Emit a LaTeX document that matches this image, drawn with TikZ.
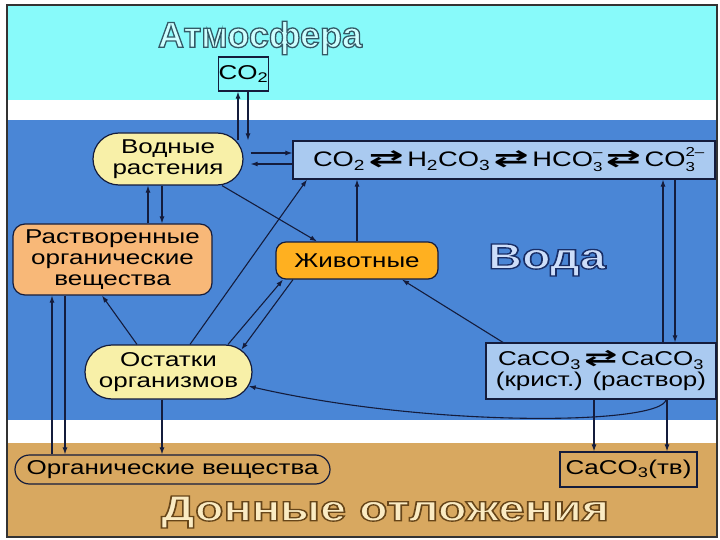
\documentclass[tikz,border=0pt]{standalone}
\usepackage{fontspec}
\setmainfont{Liberation Sans}[FakeStretch=1.3]
\newfontfamily\titlefont{Liberation Sans}
\newfontfamily\arrowfont{DejaVu Sans}
\usepackage{graphicx}
\usetikzlibrary{arrows.meta,shapes.misc}

\definecolor{atmos}{RGB}{136,250,250}
\definecolor{water}{RGB}{74,134,214}
\definecolor{sediment}{RGB}{216,168,96}
\definecolor{lightblue}{RGB}{170,202,240}
\definecolor{paleyellow}{RGB}{248,240,168}
\definecolor{peach}{RGB}{248,184,120}
\definecolor{amber}{RGB}{255,176,32}
\definecolor{linecol}{RGB}{20,28,60}
\definecolor{atmoslight}{RGB}{205,255,255}
\definecolor{waterlight}{RGB}{205,222,250}
\definecolor{sedlight}{RGB}{250,235,195}

\newcommand\eqarr{\,\scalebox{2.0}[1.1]{\arrowfont\bfseries ⇄}\,}
\newcommand\subsup[2]{\rlap{\raisebox{10pt}{\fontsize{13}{13}\selectfont #2}}\raisebox{-5pt}{\fontsize{13}{13}\selectfont #1}}
\newcommand\outlined[3]{{\color{#1}\special{pdf:literal direct 2 Tr 1.3 w #2 RG}#3\special{pdf:literal direct 0 Tr}}}

\begin{document}
\begin{tikzpicture}[
  x=1pt,y=-1pt,
  >={Latex[length=7pt,width=5pt]},
  box/.style={font=\fontsize{20}{21}\selectfont,draw=linecol,line width=1.2pt,inner sep=0pt,align=center},
  oval/.style={box,rounded rectangle,fill=paleyellow},
  arr/.style={->,draw=linecol,line width=1.1pt},
  title/.style={font=\titlefont\bfseries\fontsize{36}{36}\selectfont,inner sep=0pt}
]
\useasboundingbox (0,0) rectangle (720,540);
\fill[white] (0,0) rectangle (720,540);
\fill[atmos] (7,5) rectangle (717,100);
\fill[water] (7,120) rectangle (717,420);
\fill[sediment] (7,443) rectangle (717,537);
\draw[line width=1.5pt,black!80] (7,5) rectangle (717,537);

\node[title] (atmtitle) at (260,38) {\outlined{atmoslight}{0.2 0.35 0.4}{Атмосфера}};
\node[box,fill=atmos,minimum width=49pt,minimum height=34pt] (atmco2) at (243.5,74) {CO\textsubscript{2}};
\node[box,fill=lightblue,minimum width=422pt,minimum height=38pt,font=\fontsize{21}{22}\selectfont] (eqbox) at (504,160)
  {CO\textsubscript{2}\eqarr H\textsubscript{2}CO\textsubscript{3}\eqarr HCO\subsup{3}{–}\eqarr CO\subsup{3}{2–}};
\node[oval,minimum width=150pt,minimum height=52pt] (plants) at (168,159) {Водные\\растения};
\node[box,rounded corners=12pt,fill=peach,minimum width=199pt,minimum height=71pt] (dissolved) at (112.5,259.5) {Растворенные\\органические\\вещества};
\node[box,rounded corners=10pt,fill=amber,minimum width=162pt,minimum height=37pt] (animals) at (357,260.5) {Животные};
\node[title] (watertitle) at (547,260) {\scalebox{1.3}[1]{\outlined{waterlight}{0.1 0.18 0.4}{Вода}}};
\node[oval,minimum width=167pt,minimum height=54pt] (remains) at (168.5,372) {Остатки\\организмов};
\node[box,fill=lightblue,minimum width=230pt,minimum height=56pt] (caco3) at (601,371) {CaCO\textsubscript{3}\eqarr CaCO\textsubscript{3}\\(крист.) (раствор)};
\node[oval,fill=sediment,minimum width=315pt,minimum height=29pt] (organic) at (172.5,469.5) {Органические вещества};
\node[box,fill=sediment,minimum width=137pt,minimum height=35pt] (caco3s) at (628.5,469.5) {CaCO\textsubscript{3}(тв)};
\node[title] (sedtitle) at (385,512) {\scalebox{1.3}[1]{\outlined{sedlight}{0.4 0.27 0.1}{Донные отложения}}};

\draw[arr] (eqbox.north -| 238,0) -- (atmco2.south -| 238,0);
\draw[arr] (atmco2.south -| 248,0) -- (eqbox.north -| 248,0);
\draw[arr,shorten <=7pt] (plants.east |- 0,153) -- (eqbox.west |- 0,153);
\draw[arr,shorten >=7pt] (eqbox.west |- 0,164) -- (plants.east |- 0,164);
\draw[arr] (dissolved.north -| 148,0) -- (plants.south -| 148,0);
\draw[arr] (plants.south -| 162,0) -- (dissolved.north -| 162,0);
\draw[arr] (plants.south -| 222,0) -- (animals.north -| 317,0);
\draw[arr] (animals.north) -- (eqbox.south -| animals.north);
\draw[arr] (remains.north -| 137,0) -- (dissolved.south -| 102,0);
\draw[arr] (remains.north -| 190,0) -- (eqbox.south -| 307,0);
\draw[arr] (remains.north -| 228,0) -- (animals.south -| 283,0);
\draw[arr] (animals.south -| 293,0) -- (remains.17);
\draw[arr] (caco3.north -| 503,0) -- (animals.south -| 402,0);
\draw[arr] (caco3.north -| 663,0) -- (eqbox.south -| 663,0);
\draw[arr] (eqbox.south -| 675,0) -- (caco3.north -| 675,0);
\draw[arr] (caco3.south -| 666,0) .. controls (662,425) and (430,428) .. (remains.-10);
\draw[arr] (caco3.south -| 594,0) -- (caco3s.north -| 594,0);
\draw[arr] (caco3.south -| 667,0) -- (caco3s.north -| 667,0);
\draw[arr] (organic.north -| 52,0) -- (dissolved.south -| 52,0);
\draw[arr] (dissolved.south -| 65,0) -- (organic.north -| 65,0);
\draw[arr] (remains.south -| 162,0) -- (organic.north -| 162,0);
\end{tikzpicture}
\end{document}
